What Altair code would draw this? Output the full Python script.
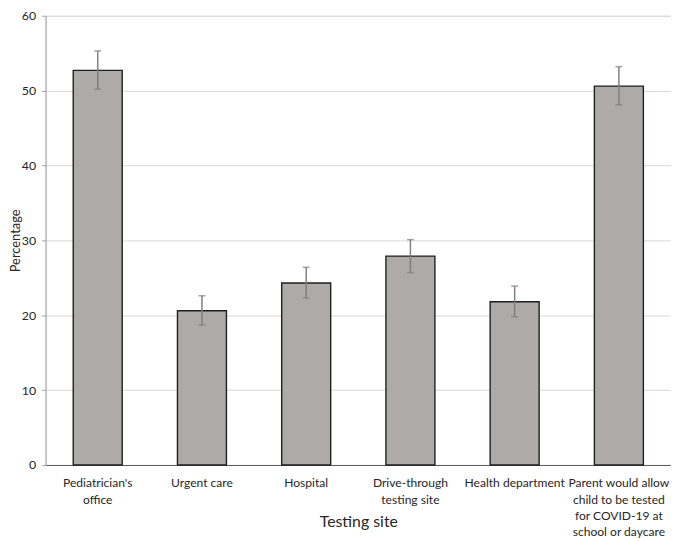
import altair as alt
import pandas as pd

sites = [
    "Pediatrician's|office",
    "Urgent care",
    "Hospital",
    "Drive-through|testing site",
    "Health department",
    "Parent would allow|child to be tested|for COVID-19 at|school or daycare",
]
values = [52.7, 20.6, 24.3, 27.9, 21.8, 50.6]
lower = [50.2, 18.7, 22.3, 25.7, 19.8, 48.1]
upper = [55.3, 22.6, 26.4, 30.1, 23.9, 53.2]
y_ticks = [0, 10, 20, 30, 40, 50, 60]

df = pd.DataFrame({"site": sites, "value": values, "lower": lower, "upper": upper})

FONT = "Lato"
TXT = "#262626"
H = 454

x_enc = alt.X(
    "site:N",
    sort=sites,
    scale=alt.Scale(paddingInner=0.53, paddingOuter=0.265),
    axis=alt.Axis(
        title="Testing site",
        labelExpr="split(datum.label, '|')",
        labelAngle=0,
        ticks=False,
        domainColor="#595959",
        domainWidth=1,
        labelPadding=12,
        labelLineHeight=16.5,
        labelFontSize=12.2,
        labelFont=FONT,
        labelColor=TXT,
        labelBaseline="top",
        titleFont=FONT,
        titleFontSize=16,
        titleFontWeight="normal",
        titleColor=TXT,
        titleY=49,
        titleBaseline="top",
    ),
)

y_scale = alt.Scale(domain=[0, 60], nice=False)
y_axis = alt.Axis(
    values=y_ticks,
    title="Percentage",
    grid=True,
    gridColor="#D9D9D9",
    gridWidth=1,
    domainColor="#A0A0A0",
    tickColor="#A0A0A0",
    tickSize=4,
    labelPadding=6,
    labelFontSize=12.5,
    labelFont=FONT,
    labelColor=TXT,
    titleFont=FONT,
    titleFontSize=13,
    titleFontWeight="normal",
    titleColor=TXT,
    titleAngle=270,
    titleX=-30,
    titleY=H / 2,
    titleBaseline="middle",
    titleAlign="center",
)

base = alt.Chart(df).encode(x=x_enc)

bars = base.mark_bar(color="#AEAAAA", stroke="#1F1F1F", strokeWidth=1.4).encode(
    y=alt.Y("value:Q", scale=y_scale, axis=y_axis)
)
rules = base.mark_rule(color="#7F7F7F", strokeWidth=1.5).encode(
    y=alt.Y("lower:Q", scale=y_scale), y2="upper:Q"
)
cap_lo = base.mark_tick(color="#7F7F7F", thickness=1.5, size=7).encode(
    y=alt.Y("lower:Q", scale=y_scale)
)
cap_hi = base.mark_tick(color="#7F7F7F", thickness=1.5, size=7).encode(
    y=alt.Y("upper:Q", scale=y_scale)
)

chart = (
    alt.layer(bars, rules, cap_lo, cap_hi)
    .properties(
        width=632,
        height=H,
        autosize=alt.AutoSizeParams(type="none"),
        padding={"left": 38, "top": 5, "right": 0, "bottom": 74},
    )
    .configure_view(stroke=None)
    .configure(background="white")
)

chart.save("out.html", embed_options={"renderer": "svg", "actions": False})
